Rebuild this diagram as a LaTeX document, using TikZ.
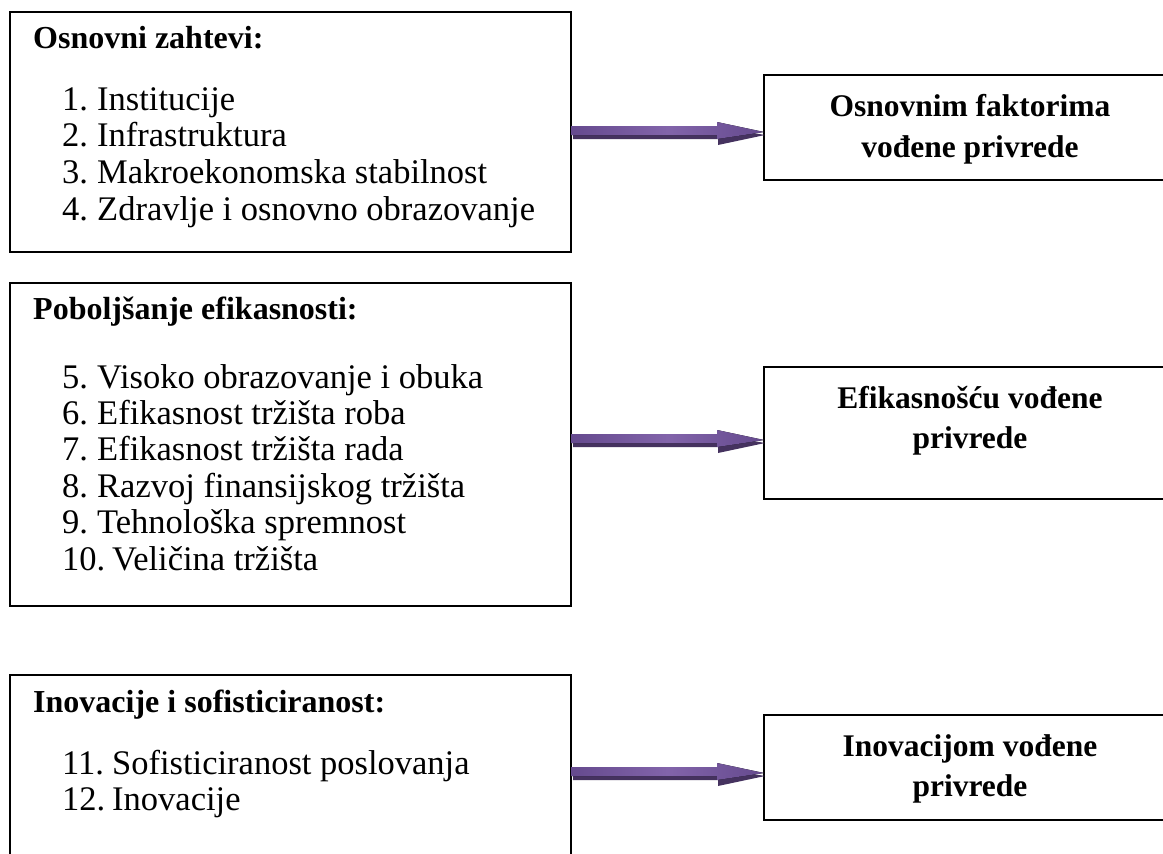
\documentclass[tikz,border=0pt]{standalone}
\usepackage{fontspec}
\setmainfont{Liberation Serif}
\usetikzlibrary{calc}

\definecolor{arrowlight}{HTML}{8264AA}
\definecolor{arrowmid}{HTML}{654A8E}
\definecolor{arrowdark}{HTML}{45325F}

\tikzset{
  panel/.style={draw=black, line width=1.8pt, rectangle, anchor=north west,
                inner sep=0pt, outer sep=0pt},
  leftbox/.style={panel, minimum width=561pt},
  rightbox/.style={panel, minimum width=412pt, minimum height=105pt},
  head/.style={font=\fontsize{32}{38}\selectfont\bfseries, anchor=base west, inner sep=0pt},
  entry/.style={font=\fontsize{34.5}{38}\selectfont, anchor=base west, inner sep=0pt},
  target/.style={font=\fontsize{31.5}{41}\selectfont\bfseries, anchor=base, inner sep=0pt},
}

% thick purple arrow with a darker drop shadow, from #1 to the tip #2
\newcommand\fatarrow[2]{%
  \fill[arrowdark] ($(#1)+(2,-1)$) -- ($(#2)+(-46,-1)$) -- ($(#2)+(-46,-5)$)
     -- ($(#2)+(1,3)$) -- ($(#2)+(-46,13)$) -- ($(#2)+(-46,7)$)
     -- ($(#1)+(2,7)$) -- cycle;
  \fill[left color=arrowmid, right color=arrowmid, middle color=arrowlight]
     ($(#1)+(0,-6)$) -- ($(#2)+(-47,-6)$) -- ($(#2)+(-47,-10)$)
     -- (#2) -- ($(#2)+(-47,7)$) -- ($(#2)+(-47,3)$)
     -- ($(#1)+(0,3)$) -- cycle;
}

\begin{document}
\begin{tikzpicture}[x=1pt, y=-1pt]
  \clip (0,0) rectangle (1163,854);
  \fill[white] (0,0) rectangle (1163,854);

  % left column: groups of pillars
  \node[leftbox, minimum height=240pt] (L1) at (10,12) {};
  \node[leftbox, minimum height=323pt] (L2) at (10,283) {};
  \node[leftbox, minimum height=240pt] (L3) at (10,675) {};

  % right column: stages of development
  \node[rightbox] (R1) at (764,75) {};
  \node[rightbox, minimum height=132pt] (R2) at (764,367) {};
  \node[rightbox] (R3) at (764,715) {};

  % group 1
  \node[head] (h1) at (33,48) {Osnovni zahtevi:};
  \node[entry] (n1) at (62,110) {1.};  \node[entry] (t1) at (97,110) {Institucije};
  \node[entry] (n2) at (62,146) {2.};  \node[entry] (t2) at (97,146) {Infrastruktura};
  \node[entry] (n3) at (62,183) {3.};  \node[entry] (t3) at (97,183) {Makroekonomska stabilnost};
  \node[entry] (n4) at (62,220) {4.};  \node[entry] (t4) at (97,220) {Zdravlje i osnovno obrazovanje};

  % group 2
  \node[head] (h2) at (33,319) {Poboljšanje efikasnosti:};
  \node[entry] (n5) at (62,388) {5.};  \node[entry] (t5) at (97,388) {Visoko obrazovanje i obuka};
  \node[entry] (n6) at (62,424) {6.};  \node[entry] (t6) at (97,424) {Efikasnost tržišta roba};
  \node[entry] (n7) at (62,460) {7.};  \node[entry] (t7) at (97,460) {Efikasnost tržišta rada};
  \node[entry] (n8) at (62,497) {8.};  \node[entry] (t8) at (97,497) {Razvoj finansijskog tržišta};
  \node[entry] (n9) at (62,533) {9.};  \node[entry] (t9) at (97,533) {Tehnološka spremnost};
  \node[entry] (n10) at (62,570) {10.}; \node[entry] (t10) at (112,570) {Veličina tržišta};

  % group 3
  \node[head] (h3) at (33,712) {Inovacije i sofisticiranost:};
  \node[entry] (n11) at (62,774) {11.}; \node[entry] (t11) at (112,774) {Sofisticiranost poslovanja};
  \node[entry] (n12) at (62,810) {12.}; \node[entry] (t12) at (112,810) {Inovacije};

  % stage labels
  \node[target] (s1a) at (970,116) {Osnovnim faktorima};
  \node[target] (s1b) at (970,157) {vođene privrede};
  \node[target] (s2a) at (970,408) {Efikasnošću vođene};
  \node[target] (s2b) at (970,448) {privrede};
  \node[target] (s3a) at (970,756) {Inovacijom vođene};
  \node[target] (s3b) at (970,796) {privrede};

  % connectors
  \coordinate (y1) at (0,132);
  \coordinate (y2) at (0,440);
  \coordinate (y3) at (0,773);
  \coordinate (a1s) at (L1.east |- y1); \coordinate (a1e) at (R1.west |- y1);
  \coordinate (a2s) at (L2.east |- y2); \coordinate (a2e) at (R2.west |- y2);
  \coordinate (a3s) at (L3.east |- y3); \coordinate (a3e) at (R3.west |- y3);
  \fatarrow{a1s}{a1e}
  \fatarrow{a2s}{a2e}
  \fatarrow{a3s}{a3e}
\end{tikzpicture}
\end{document}
